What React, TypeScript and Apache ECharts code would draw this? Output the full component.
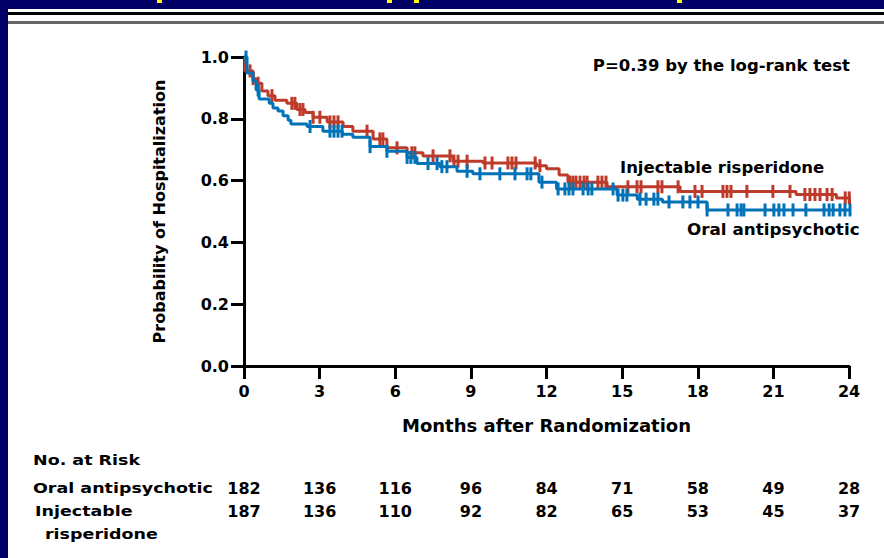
import React, { useEffect, useRef } from "react";
import * as echarts from "echarts";

// ---- data ----
const monthTicks = [0, 3, 6, 9, 12, 15, 18, 21, 24];

// Kaplan-Meier steps [month, probability without hospitalization]
const injectableSteps: number[][] = [
  [0, 1.0], [0.03, 0.955], [0.36, 0.93], [0.48, 0.915], [0.71, 0.89], [0.95, 0.875],
  [1.23, 0.86], [1.7, 0.85], [2.1, 0.83], [2.42, 0.82], [2.74, 0.805], [3.3, 0.79],
  [3.93, 0.775], [4.32, 0.76], [5.12, 0.735], [5.67, 0.706], [6.47, 0.69], [7.1, 0.68],
  [8.29, 0.663], [9.48, 0.657], [11.6, 0.648], [12.0, 0.638], [12.5, 0.618], [12.85, 0.595],
  [14.4, 0.58], [17.3, 0.565], [21.9, 0.555], [23.5, 0.544], [24.05, 0.528], [24.35, 0.528],
];
const oralSteps: number[][] = [
  [0, 1.0], [0.12, 0.948], [0.36, 0.922], [0.48, 0.893], [0.6, 0.864], [1.0, 0.85],
  [1.15, 0.835], [1.35, 0.825], [1.55, 0.81], [1.75, 0.795], [1.86, 0.783], [2.5, 0.775],
  [3.13, 0.76], [3.9, 0.75], [4.32, 0.74], [5.0, 0.71], [5.67, 0.695], [6.47, 0.675],
  [6.86, 0.655], [7.77, 0.645], [8.45, 0.63], [9.08, 0.622], [11.7, 0.595], [12.4, 0.573],
  [14.8, 0.553], [15.6, 0.54], [16.6, 0.531], [18.37, 0.505], [24.3, 0.505],
];

// censoring times (months)
const injectableCensored = [
  0.24, 0.36, 0.56, 1.11, 1.9, 2.02, 2.22, 2.34, 2.74, 3.01, 3.41, 3.57, 3.73, 4.88, 5.39,
  5.51, 6.07, 6.66, 6.78, 7.5, 8.17, 8.33, 8.49, 8.85, 9.56, 9.84, 10.47, 10.63, 10.79,
  11.55, 11.74, 12.93, 13.05, 13.17, 13.33, 13.49, 13.61, 14.04, 14.2, 14.36, 15.23, 15.59,
  15.75, 16.42, 16.58, 17.22, 17.89, 18.17, 19.0, 19.16, 19.32, 19.95, 20.98, 21.66, 22.25,
  22.45, 22.65, 22.85, 23.13, 23.33, 23.85, 24.01,
];
const oralCensored = [
  0.08, 0.56, 2.62, 3.41, 3.57, 3.73, 3.89, 5.0, 5.67, 6.47, 6.62, 6.78, 7.3, 7.66, 7.85,
  8.05, 8.85, 9.36, 10.15, 10.75, 11.23, 11.38, 11.82, 12.46, 12.73, 12.89, 13.05, 13.45,
  13.65, 13.8, 14.64, 14.84, 15.03, 15.19, 15.71, 15.95, 16.26, 16.42, 16.86, 17.41, 17.69,
  18.01, 18.37, 19.2, 19.56, 19.72, 19.83, 20.67, 21.02, 21.22, 21.42, 21.78, 22.29, 23.01,
  23.21, 23.37, 23.64, 23.84, 24.04,
];

const riskRows = ["Oral antipsychotic", "Injectable risperidone"];
const oralAtRisk = [182, 136, 116, 96, 84, 71, 58, 49, 28];
const injectableAtRisk = [187, 136, 110, 92, 82, 65, 53, 45, 37];

// ---- styling ----
const NAVY = "#000066";
const RED = "#BE3A2A";
const BLUE = "#0072B8";
const FONT = '"DejaVu Sans", sans-serif';

function survivalAt(steps: number[][], t: number): number {
  let s = steps[0][1];
  for (const [x, y] of steps) {
    if (x <= t) s = y;
    else break;
  }
  return s;
}

function txt(text: string, x: number, y: number, size: number, align: string, scaleX = 1) {
  return {
    type: "text",
    x,
    y,
    scaleX,
    z: 10,
    style: {
      text,
      fill: "#000",
      font: `bold ${size}px ${FONT}`,
      fontSize: size,
      fontWeight: "bold",
      fontFamily: FONT,
      align,
      textAlign: align,
      verticalAlign: "middle",
      textVerticalAlign: "middle",
    },
  };
}

export default function App() {
  const ref = useRef<HTMLDivElement>(null);

  useEffect(() => {
    if (!ref.current) return;
    const chart = echarts.init(ref.current, null, { renderer: "svg" });

    const censorSymbol = { symbol: "rect", symbolSize: [3, 13] };
    const riskLabel = {
      show: true,
      position: "inside",
      color: "#000",
      textBorderWidth: 0,
      fontSize: 16,
      fontWeight: "bold",
      fontFamily: FONT,
      formatter: (p: any) => String(p.value[2]),
    };

    const option: any = {
      animation: false,
      backgroundColor: "#ffffff",
      grid: [
        { left: 244, top: 57, width: 605, height: 309 },
        { left: 244, top: 477, width: 605, height: 46 },
      ],
      xAxis: [
        {
          gridIndex: 0,
          type: "value",
          min: 0,
          max: 24,
          interval: 3,
          axisLine: { lineStyle: { color: "#000", width: 3 } },
          axisTick: { length: 13, lineStyle: { color: "#000", width: 3 } },
          axisLabel: {
            margin: 17,
            color: "#000",
            fontSize: 16,
            fontWeight: "bold",
            fontFamily: FONT,
          },
          splitLine: { show: false },
          name: "Months after Randomization",
          nameLocation: "middle",
          nameGap: 50,
          nameTextStyle: { color: "#000", fontSize: 18, fontWeight: "bold", fontFamily: FONT },
        },
        { gridIndex: 1, type: "value", min: 0, max: 24, show: false },
      ],
      yAxis: [
        {
          gridIndex: 0,
          type: "value",
          min: 0,
          max: 1,
          interval: 0.2,
          axisLine: { show: true, lineStyle: { color: "#000", width: 3 } },
          axisTick: { show: true, length: 13, lineStyle: { color: "#000", width: 3 } },
          axisLabel: {
            margin: 15,
            color: "#000",
            fontSize: 16,
            fontWeight: "bold",
            fontFamily: FONT,
            formatter: (v: number) => v.toFixed(1),
          },
          splitLine: { show: false },
          name: "Probability of Hospitalization",
          nameLocation: "middle",
          nameGap: 77,
          nameRotate: 90,
          nameTextStyle: { color: "#000", fontSize: 16, fontWeight: "bold", fontFamily: FONT },
        },
        {
          gridIndex: 1,
          type: "category",
          data: riskRows,
          inverse: true,
          show: false,
        },
      ],
      series: [
        {
          type: "line",
          name: "Injectable risperidone",
          step: "end",
          clip: false,
          showSymbol: false,
          symbol: "none",
          lineStyle: { color: RED, width: 3 },
          data: injectableSteps,
          z: 3,
        },
        {
          type: "scatter",
          clip: false,
          ...censorSymbol,
          itemStyle: { color: RED, opacity: 1 },
          data: injectableCensored.map((t) => [t, survivalAt(injectableSteps, t)]),
          z: 3,
        },
        {
          type: "line",
          name: "Oral antipsychotic",
          step: "end",
          clip: false,
          showSymbol: false,
          symbol: "none",
          lineStyle: { color: BLUE, width: 3 },
          data: oralSteps,
          z: 4,
        },
        {
          type: "scatter",
          clip: false,
          ...censorSymbol,
          itemStyle: { color: BLUE, opacity: 1 },
          data: oralCensored.map((t) => [t, survivalAt(oralSteps, t)]),
          z: 4,
        },
        {
          type: "scatter",
          xAxisIndex: 1,
          yAxisIndex: 1,
          symbolSize: 0,
          itemStyle: { opacity: 1 },
          label: riskLabel,
          data: oralAtRisk.map((n, i) => [monthTicks[i], riskRows[0], n]),
        },
        {
          type: "scatter",
          xAxisIndex: 1,
          yAxisIndex: 1,
          symbolSize: 0,
          itemStyle: { opacity: 1 },
          label: riskLabel,
          data: injectableAtRisk.map((n, i) => [monthTicks[i], riskRows[1], n]),
        },
      ],
      graphic: [
        { type: "rect", shape: { x: 0, y: 0, width: 884, height: 9 }, style: { fill: NAVY } },
        { type: "rect", shape: { x: 0, y: 0, width: 8, height: 558 }, style: { fill: NAVY } },
        { type: "rect", shape: { x: 157, y: 0, width: 5, height: 3 }, style: { fill: "#FFFF00" } },
        { type: "rect", shape: { x: 387, y: 0, width: 5, height: 3 }, style: { fill: "#FFFF00" } },
        { type: "rect", shape: { x: 414, y: 0, width: 5, height: 3 }, style: { fill: "#FFFF00" } },
        { type: "rect", shape: { x: 677, y: 0, width: 5, height: 3 }, style: { fill: "#FFFF00" } },
        { type: "rect", shape: { x: 8, y: 12, width: 876, height: 3 }, style: { fill: "#000" } },
        { type: "rect", shape: { x: 8, y: 21, width: 876, height: 3 }, style: { fill: "#666666" } },
        txt("P=0.39 by the log-rank test", 850, 66, 15, "right", 1.1),
        txt("Injectable risperidone", 620, 168, 15, "left", 1.1),
        txt("Oral antipsychotic", 687, 230, 15, "left", 1.12),
        txt("No. at Risk", 33, 460, 14, "left", 1.25),
        txt("Oral antipsychotic", 33, 488, 14, "left", 1.25),
        txt("Injectable", 35, 511, 14, "left", 1.25),
        txt("risperidone", 45, 534, 14, "left", 1.25),
      ],
    };

    chart.setOption(option);
    return () => chart.dispose();
  }, []);

  return (
    <div
      ref={ref}
      style={{ position: "fixed", left: 0, top: 0, width: 884, height: 558 }}
    />
  );
}
